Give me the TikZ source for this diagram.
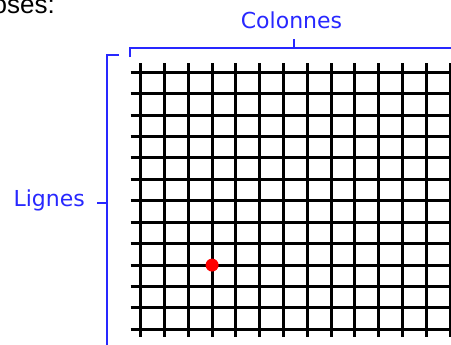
\documentclass[tikz,border=0pt]{standalone}
\usepackage{fontspec}
\usepackage{xcolor}
\usepackage{tikz}
\usetikzlibrary{positioning}
\newfontfamily\labelfont{DejaVu Sans}
\newfontfamily\bodyfont{Liberation Sans}
\definecolor{bracketblue}{RGB}{40,40,255}

\begin{document}
\begin{tikzpicture}[
    x=1pt, y=-1pt,
    gridline/.style={draw=black, line width=3pt},
    bracket/.style={draw=bracketblue, line width=1.8pt},
    axislabel/.style={text=bracketblue, font=\labelfont\fontsize{22}{24}\selectfont, inner sep=0pt},
    marker/.style={circle, fill=red, inner sep=0pt, minimum size=13pt}
]
\useasboundingbox (0,0) rectangle (451,345);
% text cut off above the picture
\node[anchor=base east, font=\bodyfont\fontsize{26}{28}\selectfont, inner sep=0pt] (caption) at (55,14) {oses:};
% grid
\foreach \i in {0,...,13}
    \draw[gridline] (140.7+23.8*\i,63.3) -- (140.7+23.8*\i,336.7);
\foreach \j in {0,...,12}
    \draw[gridline] (130.7,72.3+21.42*\j) -- (451,72.3+21.42*\j);
\node[marker] (point) at (140.7+23.8*3,72.3+21.42*9) {};
% columns bracket
\node[axislabel, anchor=base] (colonnes) at (291.5,28.3) {Colonnes};
\coordinate (colleft) at (130,48);
\coordinate (colmid) at (294,48);
\coordinate (colright) at (451,48);
\draw[bracket] ([yshift=-8.7pt]colleft) -- (colleft) -- (colright);
\draw[bracket] (colmid) -- ([yshift=8.5pt]colmid);
% rows bracket
\node[axislabel, anchor=base east] (lignes) at (85,206.7) {Lignes};
\coordinate (rowtop) at (107.3,55);
\coordinate (rowmid) at (107.3,202.7);
\coordinate (rowbottom) at (107.3,345);
\draw[bracket] ([xshift=11.7pt]rowtop) -- (rowtop) -- (rowbottom);
\draw[bracket] (rowmid) -- ([xshift=-10.6pt]rowmid);
\end{tikzpicture}
\end{document}
